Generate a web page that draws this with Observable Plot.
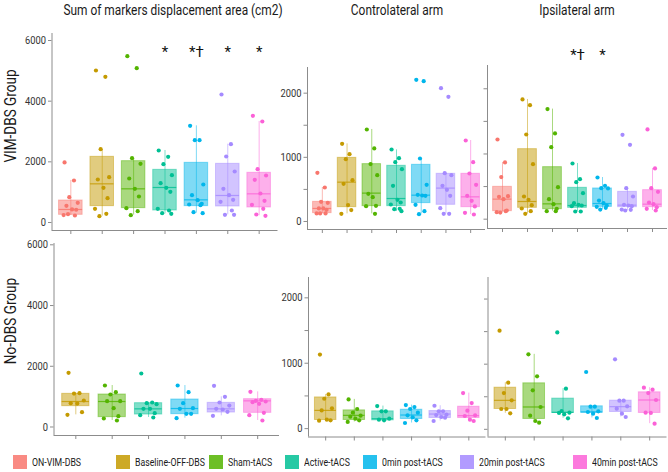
<!DOCTYPE html>
<html><head><meta charset="utf-8">
<script src="https://cdn.jsdelivr.net/npm/d3@7"></script>
<script src="https://cdn.jsdelivr.net/npm/@observablehq/plot@0.6"></script>
<style>
body{margin:0;background:#fff;}
#root{position:relative;width:668px;height:472px;overflow:hidden;background:#fff;font-family:Roboto,"Liberation Sans",sans-serif;color:#1a1a1a}
#root svg{position:absolute;left:0;top:0;}
.t{position:absolute;white-space:nowrap;transform:translate(-50%,-50%) scale(0.82,1);font-size:14.5px;}
.r{position:absolute;white-space:nowrap;transform:translate(-50%,-50%) rotate(-90deg) scale(0.82,1);font-size:16.5px;}
.leg{position:absolute;top:455px;height:14px;display:flex;align-items:center;white-space:nowrap;}
.sw{width:14px;height:14px;margin-right:5px;opacity:0.85;flex:none}
.lt{display:inline-block;font-size:11.5px;transform:scale(0.76,1);transform-origin:0 50%;}
</style></head><body><div id="root"></div>
<script>
const groups = ["ON-VIM-DBS","Baseline-OFF-DBS","Sham-tACS","Active-tACS","0min post-tACS","20min post-tACS","40min post-tACS"];
const colors = ["#F8766D","#C49A00","#53B400","#00C094","#00B6EB","#A58AFF","#FB61D7"];
const titles = ["Sum of markers displacement area (cm2)","Controlateral arm","Ipsilateral arm"];
const rowLabels = ["VIM-DBS Group","No-DBS Group"];
const jitter = [-0.2, 0.1, -0.05, 0.22, -0.14, 0.04, 0.17, -0.23, 0.13, -0.09, 0.2, -0.02];

// box stats per category: [lower whisker, q1, median, q3, upper whisker]
const vimSumBox = [[230,253,429,725,1385],[209,539,1275,2165,2407],[242,473,1110,2022,2121],[286,396,1154,1736,2374],[308,539,747,1967,3187],[253,528,890,1934,2583],[220,495,945,1638,3330]];
const vimSumPts = [[1980,1385,835,648,550,430,420,245,230,275],[5011,4803,2418,1495,1418,1143,802,451,286,209],[5484,5088,2121,1934,1451,1110,857,473,374,242],[2374,2165,1923,1561,1297,1143,1011,451,396,308,286],[3187,2714,2714,1253,901,736,615,593,571,341,308],[4220,2583,2176,1682,1110,901,747,681,396,253,253],[3517,3330,1758,1550,1407,956,714,582,451,264,220]];
const vimConBox = [[125,130,203,306,530],[119,223,613,992,1210],[119,239,442,894,1434],[156,239,358,868,1117],[114,286,410,883,982],[119,260,520,743,753],[109,223,384,743,1262]];
const vimConPts = [[758,530,306,291,203,203,182,125,125,125],[1210,1049,971,644,587,255,177,119],[1434,1138,894,722,431,379,244,239,119],[1122,987,925,816,556,338,296,265,197,192,161],[2208,2187,982,571,416,405,400,260,161,114],[2078,1943,753,722,556,494,400,208,119,119],[1262,925,748,571,400,322,234,135,109]];
const vimIpsBox = [[102,123,307,496,870],[82,174,271,1074,1836],[123,153,235,798,1688],[118,174,210,481,854],[148,189,240,471,639],[133,184,215,419,476],[133,184,230,445,778]];
const vimIpsPts = [[1222,870,645,353,343,307,133,107,123,102],[1836,1749,1299,844,348,297,215,164,123,82],[1688,1315,1105,491,307,230,159,123,123],[854,614,568,399,246,220,210,200,118,118],[639,511,476,471,286,246,210,189,174,148],[1294,1141,476,348,220,210,200,148,143,133],[1376,778,476,419,256,230,184,159,133]];
const noSumBox = [[400,686,839,1092,1113],[214,324,839,1070,1366],[313,411,598,784,806],[291,422,609,905,1366],[367,477,598,795,993],[214,466,861,916,1157]];
const noSumPts = [[1783,1113,1102,872,784,773,488,400],[1366,1146,1070,850,850,620,357,280,214],[1761,806,784,751,598,598,455,389,313],[1366,1146,784,620,598,433,433,291],[1355,993,806,707,598,576,499,367],[1157,894,861,839,817,762,466,389,214]];
const noConBox = [[120,132,279,477,523],[102,132,203,279,447],[127,127,152,264,345],[86,147,208,289,360],[117,162,223,269,350],[117,162,198,335,543]];
const noConPts = [[1132,523,457,310,279,137,127,122],[447,300,244,198,183,152,127,102],[345,264,264,152,137,127],[360,330,300,244,203,173,127,86],[350,264,264,213,208,178,168,117],[543,391,274,203,193,137,117]];
const noIpsBox = [[246,312,445,639,716],[102,159,343,706,1151],[169,251,261,471,624],[174,256,266,353,348],[189,266,348,440,440],[87,251,450,568,639]];
const noIpsPts = [[1514,716,557,445,312,312,246],[1151,813,598,343,210,128,102],[1488,624,281,256,251,230,169],[880,348,348,276,266,240,174],[1074,440,440,353,317,240,189],[639,609,557,450,256,251,87]];
const sumTicks = [0,2000,4000,6000];
const armTicks = [0,500,1000,1500,2000];
const vimSumSig = [{g:3,label:"*"},{g:4,label:"*\u2020"},{g:5,label:"*"},{g:6,label:"*"}];
const vimIpsSig = [{g:3,label:"*\u2020"},{g:4,label:"*"}];

const root = document.getElementById("root");
const W = 668, H = 472;
const AX = "#8c8c8c";

function panel({box, pts, cats, frame, ydom, ticks, fmt, sig, sigY}) {
  const n = cats.length;
  const boxes = box.map((b, i) => ({i, cat: cats[i], lo: b[0], q1: b[1], med: b[2], q3: b[3], hi: b[4]}));
  const dots = pts.flatMap((arr, i) => arr.map((v, j) => ({cat: cats[i], v, xj: i + jitter[j % jitter.length]})));
  const marks = [
    Plot.ruleX(boxes, {x: "i", y1: "lo", y2: "hi", stroke: "cat", strokeOpacity: 0.5}),
    Plot.rect(boxes, {x1: d => d.i - 0.375, x2: d => d.i + 0.375, y1: "q1", y2: "q3", fill: "cat", fillOpacity: 0.5, stroke: "cat", strokeOpacity: 0.45}),
    Plot.ruleY(boxes, {x1: d => d.i - 0.375, x2: d => d.i + 0.375, y: "med", stroke: "cat", strokeWidth: 1.2, strokeOpacity: 0.8}),
    Plot.dot(dots, {x: "xj", y: "v", fill: "cat", r: 2.1}),
    Plot.ruleX([-0.6], {stroke: AX}),
    Plot.ruleY([ydom[0]], {stroke: AX}),
    Plot.axisY({ticks, tickFormat: fmt, tickSize: 3.5, tickPadding: 2.5, stroke: AX, fill: "#333", fontSize: 11, label: null}),
    Plot.axisX({ticks: d3.range(n), tickFormat: () => "", tickSize: 4, stroke: AX, label: null})
  ];
  if (sig) marks.push(Plot.text(sig, {x: "g", y: () => sigY, text: "label", fontSize: 15, fill: "#111"}));
  const svg = Plot.plot({
    width: W, height: H,
    marginLeft: frame[0], marginRight: W - frame[1], marginTop: frame[2], marginBottom: H - frame[3],
    x: {domain: [-0.6, n - 0.4]},
    y: {domain: ydom},
    color: {domain: groups, range: colors},
    style: {background: "transparent", fontFamily: 'Roboto,"Liberation Sans",sans-serif', fontSize: "11px", overflow: "visible"},
    marks
  });
  svg.querySelectorAll('g[aria-label="y-axis tick label"] text').forEach(t => {
    const tr = t.getAttribute("transform");
    if (tr) t.setAttribute("transform", tr + " scale(0.85,1)");
  });
  root.appendChild(svg);
}

const labelAll = d => String(d);
const labelK = d => d % 1000 === 0 ? String(d) : "";
const none = () => "";

panel({box: vimSumBox, pts: vimSumPts, cats: groups, frame: [51.5, 277.5, 33, 230], ydom: [-264, 6231], ticks: sumTicks, fmt: labelAll, sig: vimSumSig, sigY: 5600});
panel({box: vimConBox, pts: vimConPts, cats: groups, frame: [307, 485, 67, 229], ydom: [-125, 2400], ticks: armTicks, fmt: labelK});
panel({box: vimIpsBox, pts: vimIpsPts, cats: groups, frame: [487, 667, 65, 228], ydom: [-143, 2357], ticks: armTicks, fmt: none, sig: vimIpsSig, sigY: 2510});
const g6 = groups.slice(1);
panel({box: noSumBox, pts: noSumPts, cats: g6, frame: [53.5, 279, 243, 435], ydom: [-280, 6043], ticks: sumTicks, fmt: labelAll});
panel({box: noConBox, pts: noConPts, cats: g6, frame: [308, 485.5, 277, 436.5], ydom: [-128, 2311], ticks: armTicks, fmt: labelK});
panel({box: noIpsBox, pts: noIpsPts, cats: g6, frame: [487.5, 666.5, 277, 436.5], ydom: [-118, 2331], ticks: armTicks, fmt: none});

// titles
[[173, 10], [397, 10], [577, 10]].forEach(([x, y], k) => {
  const d = document.createElement("div"); d.className = "t"; d.style.left = x + "px"; d.style.top = y + "px"; d.textContent = titles[k]; root.appendChild(d);
});
[[10, 116], [10, 321]].forEach(([x, y], k) => {
  const d = document.createElement("div"); d.className = "r"; d.style.left = x + "px"; d.style.top = y + "px"; d.textContent = rowLabels[k]; root.appendChild(d);
});
// legend
const legX = [13, 116, 209, 285, 363, 460, 573];
groups.forEach((g, k) => {
  const it = document.createElement("div"); it.className = "leg"; it.style.left = legX[k] + "px";
  const sw = document.createElement("div"); sw.className = "sw"; sw.style.background = colors[k];
  const tx = document.createElement("span"); tx.className = "lt"; tx.textContent = g;
  it.appendChild(sw); it.appendChild(tx); root.appendChild(it);
});
</script></body></html>
